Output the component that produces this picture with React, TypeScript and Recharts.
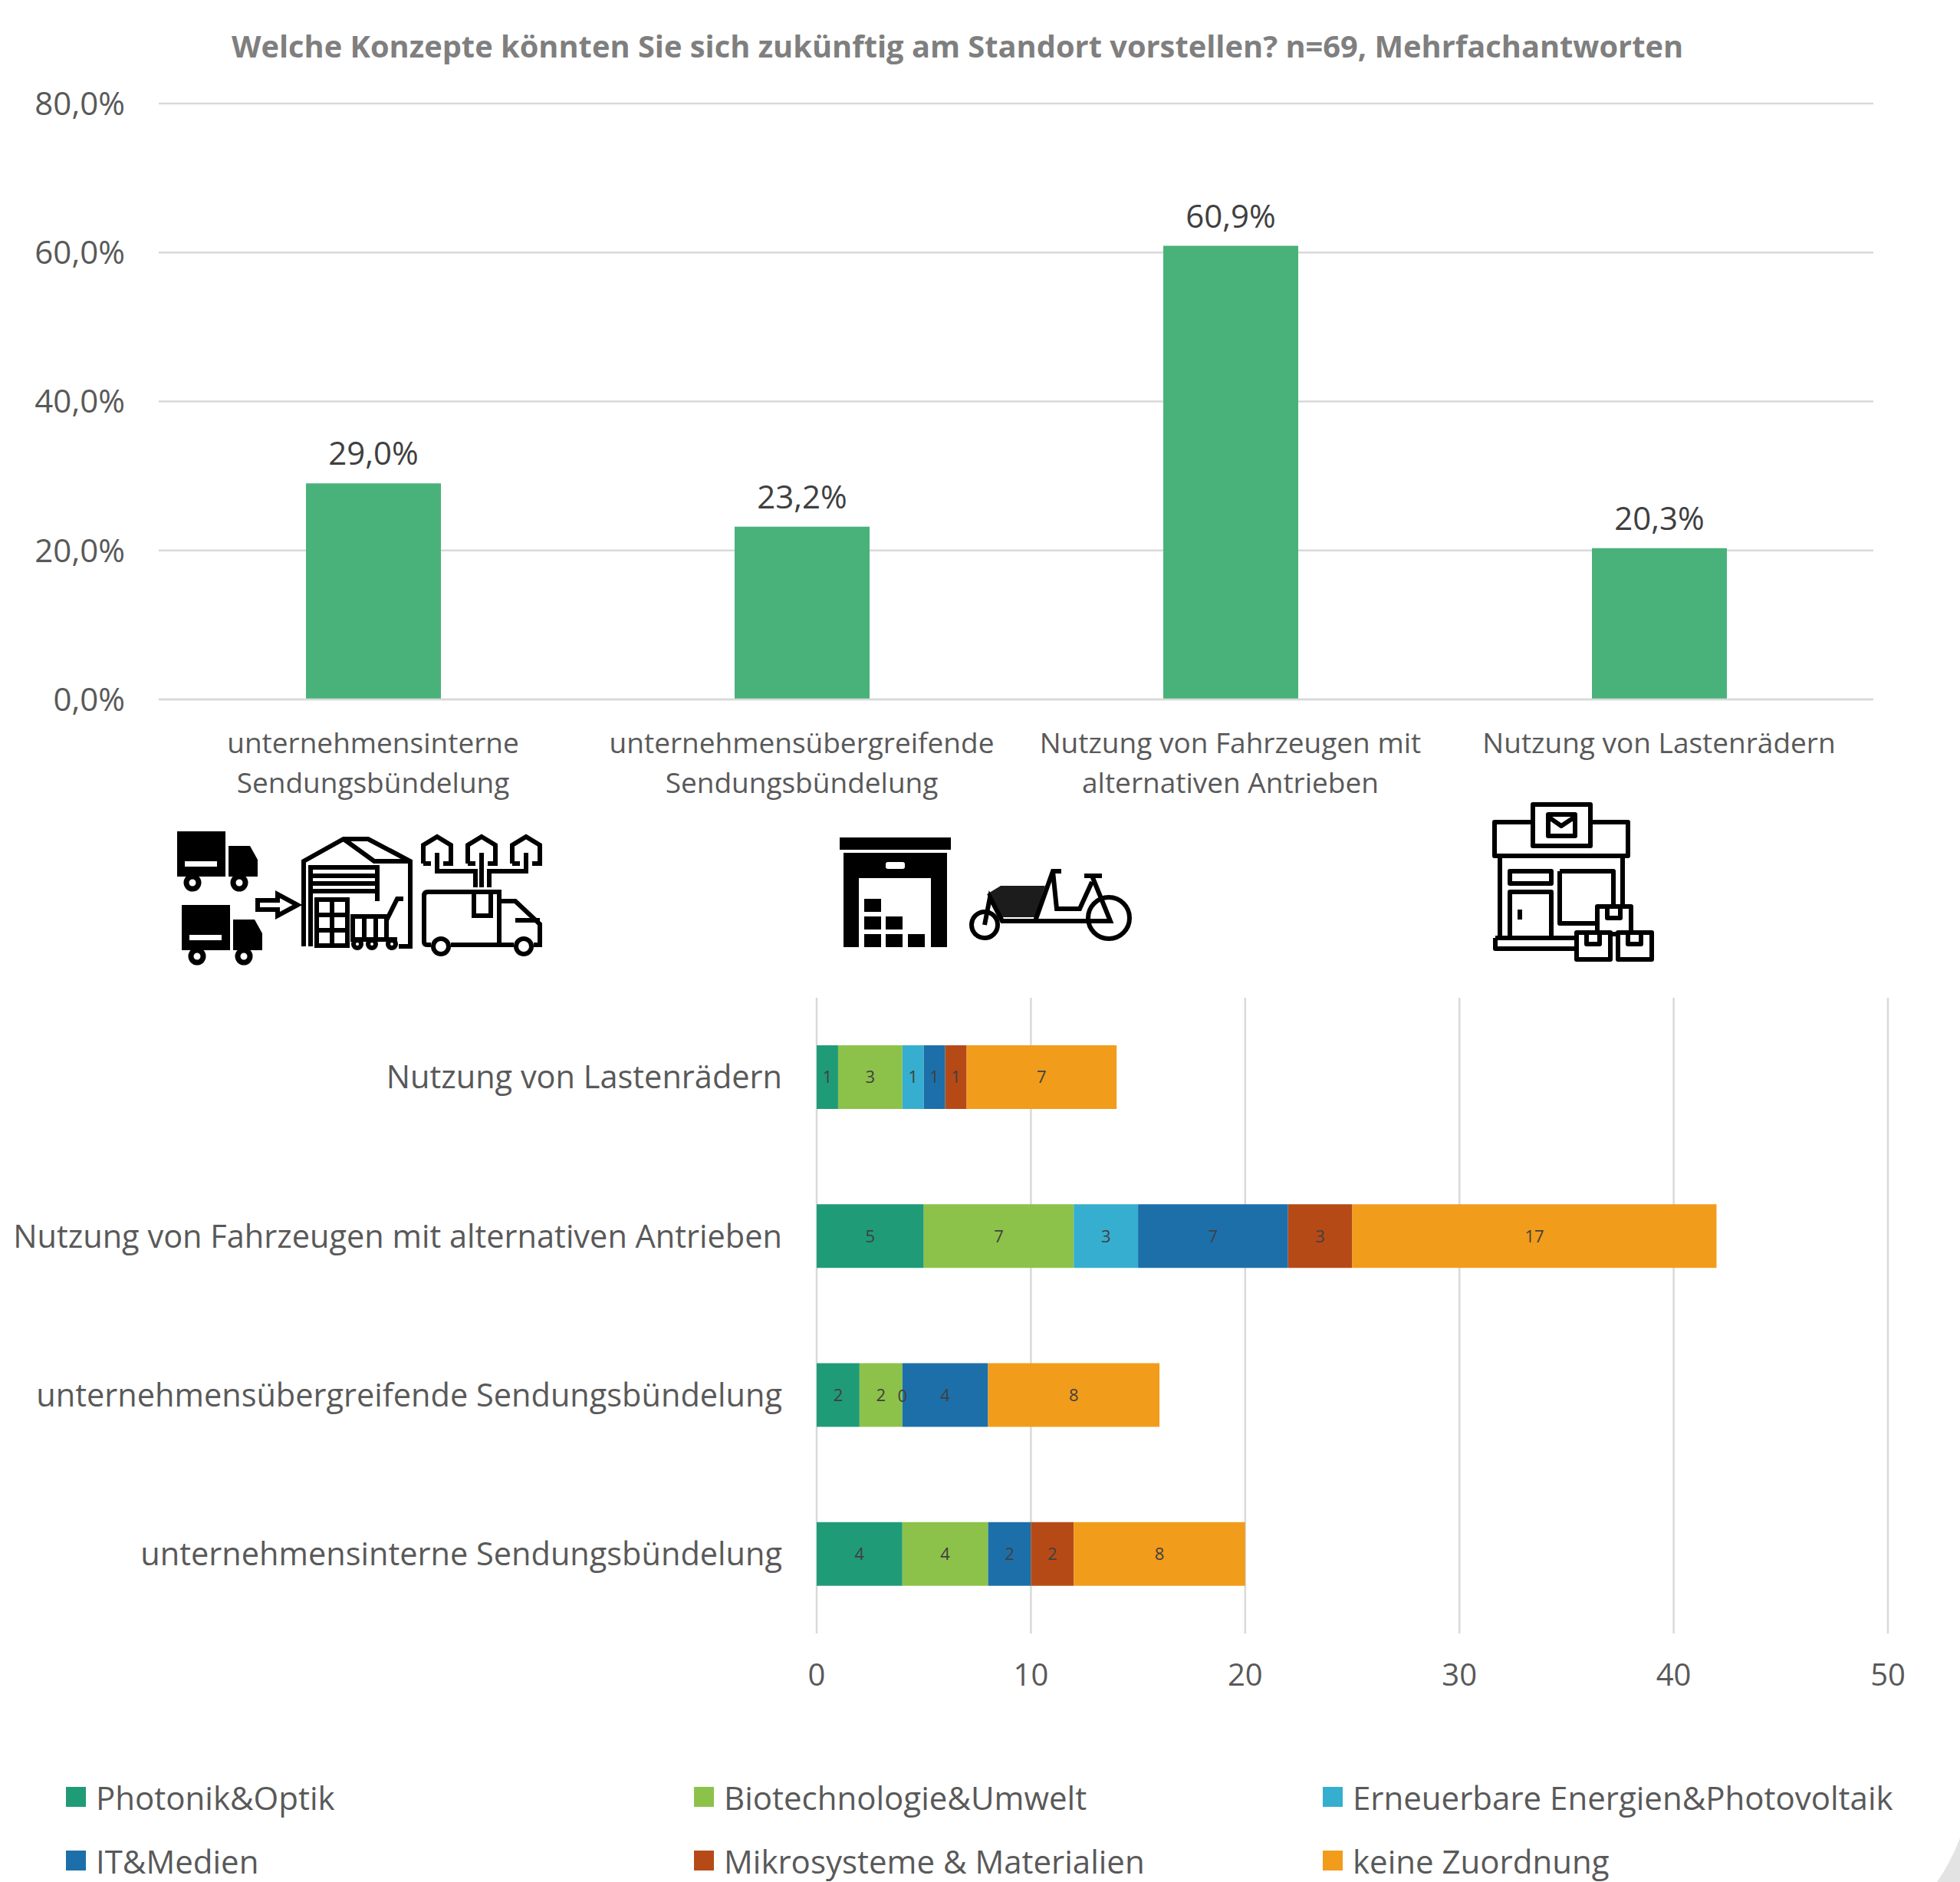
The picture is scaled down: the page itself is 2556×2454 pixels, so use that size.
import React from "react";
import { BarChart, Bar, XAxis, YAxis, CartesianGrid, LabelList, Legend } from "recharts";

const FONT = "'Open Sans', sans-serif";
const categories = [
  "unternehmensinterne Sendungsbündelung",
  "unternehmensübergreifende Sendungsbündelung",
  "Nutzung von Fahrzeugen mit alternativen Antrieben",
  "Nutzung von Lastenrädern",
];
const categoryLines: Record<string, string[]> = {
  "unternehmensinterne Sendungsbündelung": ["unternehmensinterne", "Sendungsbündelung"],
  "unternehmensübergreifende Sendungsbündelung": ["unternehmensübergreifende", "Sendungsbündelung"],
  "Nutzung von Fahrzeugen mit alternativen Antrieben": ["Nutzung von Fahrzeugen mit", "alternativen Antrieben"],
  "Nutzung von Lastenrädern": ["Nutzung von Lastenrädern"],
};
const shares = [29.0, 23.2, 60.9, 20.3];
const shareTicks = [0, 20, 40, 60, 80];
const countTicks = [0, 10, 20, 30, 40, 50];

const photonik = [4, 2, 5, 1];
const biotech = [4, 2, 7, 3];
const erneuerbar = [null, 0, 3, 1];
const itMedien = [2, 4, 7, 1];
const mikro = [2, null, 3, 1];
const keine = [8, 8, 17, 7];

const seriesNames = ["Photonik&Optik", "Biotechnologie&Umwelt", "Erneuerbare Energien&Photovoltaik", "IT&Medien", "Mikrosysteme & Materialien", "keine Zuordnung"];
const seriesColors = ["#1F9B78", "#8CC24A", "#36AECF", "#1D6FA9", "#B64A17", "#F29C1B"];
const seriesValues = [photonik, biotech, erneuerbar, itMedien, mikro, keine];

const topData = categories.map((name, i) => ({ name, value: shares[i] }));
const lowerData = categories.map((name, i) => {
  const row: Record<string, any> = { name };
  seriesNames.forEach((s, k) => { row[s] = seriesValues[k][i]; });
  return row;
});
const pct = (v: number) => v.toFixed(1).replace(".", ",") + "%";

// The library drops the label of a zero-width segment, so the zero of the
// "Erneuerbare" series is drawn at the start of the segment stacked after it.
const ZeroLabel = (p: any) =>
  erneuerbar[p.index] === 0 ? (
    <text x={p.x} y={p.y + p.height / 2} textAnchor="middle" dominantBaseline="central" fontFamily={FONT} fontSize={22} fill="#404040">
      {erneuerbar[p.index]}
    </text>
  ) : null;

const WrappedTick = (p: any) => (
  <text x={p.x} y={p.y} textAnchor="middle" fontFamily={FONT} fontSize={37} fill="#595959">
    {(categoryLines[p.payload.value] || [p.payload.value]).map((line, i) => (
      <tspan key={line} x={p.x} dy={i === 0 ? 37 : 52}>{line}</tspan>
    ))}
  </text>
);

const legendCols = [86, 905, 1725];
const legendRows = [124, 207];
const LegendContent = () => (
  <div style={{ position: "relative", width: 2556, height: 260 }}>
    {seriesNames.map((s, i) => (
      <div key={s} style={{ position: "absolute", left: legendCols[i % 3], top: legendRows[Math.floor(i / 3)], display: "flex", alignItems: "center", height: 50, fontFamily: FONT, fontSize: 42, color: "#595959", whiteSpace: "nowrap" }}>
        <span style={{ width: 26, height: 26, background: seriesColors[i], marginRight: 13, display: "inline-block" }} />
        {s}
      </div>
    ))}
  </div>
);

const Truck = ({ x, y }: { x: number; y: number }) => (
  <g transform={`translate(${x} ${y})`}>
    <rect x={0} y={0} width={63} height={59} />
    <path d="M67 19 H95 L105 37 V59 H67 Z" />
    <rect x={10} y={39} width={42} height={7} fill="#fff" />
    <circle cx={20} cy={67} r={8} fill="#fff" stroke="#000" strokeWidth={7} />
    <circle cx={81} cy={67} r={8} fill="#fff" stroke="#000" strokeWidth={7} />
  </g>
);

const Icons = () => (
  <svg width={2556} height={1290} style={{ position: "absolute", left: 0, top: 0, pointerEvents: "none" }}>
    <Truck x={231} y={1084} />
    <Truck x={237} y={1180} />
    <path d="M336 1174 H362 V1166 L388 1180 L362 1194 V1186 H336 Z" fill="#fff" stroke="#000" strokeWidth={6} />
    {/* warehouse */}
    <g fill="none" stroke="#000" strokeWidth={6}>
      <path d="M396 1234 V1123 L448 1094 H480 L535 1123 V1234 H520" />
      <path d="M448 1094 L488 1123 H535" />
      <path d="M405 1234 V1131 H492 V1175" />
      <path d="M405 1142 H492 M405 1152 H492 M405 1162 H492" />
      <rect x={413} y={1173} width={40} height={60} />
      <path d="M433 1173 V1233 M413 1193 H453 M413 1213 H453" />
      <rect x={460} y={1195} width={44} height={30} />
      <path d="M475 1195 V1225 M490 1195 V1225 M504 1200 L518 1172 H526 M458 1225 H518" />
      <circle cx={466} cy={1231} r={5} /><circle cx={485} cy={1231} r={5} /><circle cx={511} cy={1231} r={5} />
    </g>
    {/* houses and van */}
    <g fill="none" stroke="#000" strokeWidth={6}>
      <path d="M552 1126 V1102 L570 1091 L588 1102 V1126 H578 M562 1126 H552" />
      <path d="M610 1126 V1102 L628 1091 L646 1102 V1126 H636 M620 1126 H610" />
      <path d="M668 1126 V1102 L686 1091 L704 1102 V1126 H694 M678 1126 H668" />
      <path d="M570 1112 V1136 H620 V1157 M628 1112 V1157 M686 1112 V1136 H638 V1157" />
      <path d="M553 1228 V1168 Q553 1163 558 1163 H651 V1232 H588 M562 1232 H557 Q553 1232 553 1228" />
      <path d="M618 1163 V1194 H640 V1163" />
      <path d="M651 1175 H672 L704 1205 V1232 H696 M670 1232 H651 M672 1200 H704" />
      <circle cx={575} cy={1234} r={10} /><circle cx={683} cy={1234} r={10} />
    </g>
    {/* warehouse and cargo bike */}
    <rect x={1095} y={1092} width={145} height={16} />
    <path d="M1100 1112 H1235 V1235 H1100 Z M1120 1145 V1235 H1214 V1145 Z" fillRule="evenodd" />
    <rect x={1155} y={1124} width={25} height={9} rx={3} fill="#fff" />
    <rect x={1127} y={1172} width={22} height={17} />
    <rect x={1127} y={1195} width={22} height={17} /><rect x={1155} y={1195} width={22} height={17} />
    <rect x={1127} y={1218} width={22} height={17} /><rect x={1155} y={1218} width={22} height={17} /><rect x={1184} y={1218} width={22} height={17} />
    <path d="M1287 1166 L1305 1155 H1363 L1350 1196 H1307 Z" fill="#1c1c1c" />
    <g fill="none" stroke="#000" strokeWidth={6}>
      <circle cx={1284} cy={1206} r={17} />
      <circle cx={1446} cy={1197} r={27} />
      <path d="M1284 1206 L1291 1170 L1307 1201 H1448 L1424 1142 M1414 1142 H1437 M1350 1201 L1373 1136 H1384 M1373 1136 L1378 1185 H1408 L1424 1150" />
    </g>
    {/* shop */}
    <g fill="none" stroke="#000" strokeWidth={6} strokeLinejoin="round">
      <path d="M1997 1072 H1949 V1116 H2123 V1072 H2076" />
      <rect x={1999} y={1049} width={75} height={54} fill="#fff" />
      <rect x={2019} y={1062} width={35} height={28} />
      <path d="M2019 1065 L2036 1077 L2054 1065" />
      <path d="M1956 1116 V1223 M2116 1116 V1183" />
      <rect x={1969} y={1136} width={54} height={16} />
      <path d="M1969 1223 V1163 H2023 V1223" />
      <path d="M2034 1136 H2104 V1183 M2034 1136 V1204 H2083" />
      <path d="M1950 1223 H2056 M1950 1223 V1237 H2056" />
      <rect x={2083} y={1182} width={44} height={36} fill="#fff" />
      <path d="M2096 1184 V1197 H2113 V1184" />
      <rect x={2056} y={1216} width={44} height={35} fill="#fff" />
      <path d="M2069 1218 V1231 H2086 V1218" />
      <rect x={2110} y={1216} width={44} height={35} fill="#fff" />
      <path d="M2123 1218 V1231 H2140 V1218" />
    </g>
    <rect x={1979} y={1186} width={6} height={13} />
  </svg>
);

const Corner = () => (
  <svg width={40} height={60} style={{ position: "absolute", left: 2516, top: 2394 }}>
    <path d="M10 60 Q28 34 40 3 V60 Z" fill="#E3E3E3" />
  </svg>
);

export default function App() {
  return (
    <div style={{ position: "absolute", left: 0, top: 0, width: 2556, height: 2454, background: "#fff", overflow: "hidden" }}>
      <div style={{ position: "absolute", left: 0, top: 32, width: 2497, textAlign: "center", fontFamily: FONT, fontSize: 39.8, fontWeight: 700, color: "#7f7f7f", whiteSpace: "nowrap" }}>
        Welche Konzepte könnten Sie sich zukünftig am Standort vorstellen? n=69, Mehrfachantworten
      </div>
      <div style={{ position: "absolute", left: 0, top: 0 }}>
        <BarChart width={2556} height={1061} data={topData} margin={{ top: 135, right: 113, bottom: 0, left: 0 }}>
          <CartesianGrid vertical={false} stroke="#D9D9D9" strokeWidth={2.5} />
          <XAxis dataKey="name" interval={0} height={149} axisLine={{ stroke: "#D9D9D9", strokeWidth: 2.5 }} tickLine={false} tickSize={0} tickMargin={33} tick={WrappedTick} />
          <YAxis width={207} domain={[0, 80]} ticks={shareTicks} axisLine={false} tickLine={false} tickSize={0} tickMargin={44} tickFormatter={pct} tick={{ fontFamily: FONT, fontSize: 42, fill: "#595959" }} />
          <Bar dataKey="value" fill="#49B27A" barSize={176} isAnimationActive={false}>
            <LabelList dataKey="value" position="top" offset={24} formatter={pct} style={{ fontFamily: FONT, fontSize: 42, fill: "#404040" }} />
          </Bar>
        </BarChart>
      </div>
      <Icons />
      <div style={{ position: "absolute", left: 0, top: 1301 }}>
        <BarChart layout="vertical" width={2556} height={1153} data={lowerData} margin={{ top: 0, right: 94, bottom: 0, left: 0 }}>
          <CartesianGrid horizontal={false} stroke="#D9D9D9" strokeWidth={2.5} />
          <XAxis type="number" domain={[0, 50]} ticks={countTicks} height={64} axisLine={false} tickLine={false} tickSize={0} tickMargin={40} tick={{ fontFamily: FONT, fontSize: 40, fill: "#595959" }} />
          <YAxis type="category" dataKey="name" reversed width={1065} interval={0} axisLine={false} tickLine={false} tickSize={0} tickMargin={45} tick={{ fontFamily: FONT, fontSize: 41.5, fill: "#595959" }} />
          {seriesNames.map((s, i) => (
            <Bar key={s} dataKey={s} stackId="a" fill={seriesColors[i]} barSize={83} isAnimationActive={false}>
              <LabelList dataKey={s} position="center" style={{ fontFamily: FONT, fontSize: 22, fill: "#404040" }} />
              {s === "IT&Medien" ? <LabelList dataKey={s} content={ZeroLabel} /> : null}
            </Bar>
          ))}
          <Legend content={<LegendContent />} height={260} wrapperStyle={{ left: 0, width: 2556, bottom: 0 }} />
        </BarChart>
      </div>
      <Corner />
    </div>
  );
}
